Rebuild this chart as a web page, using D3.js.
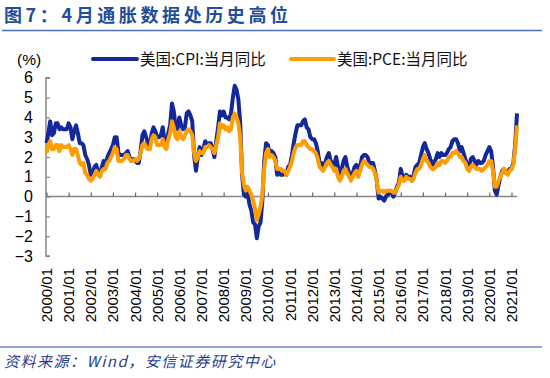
<!DOCTYPE html>
<html><head><meta charset="utf-8">
<script src="https://cdn.jsdelivr.net/npm/d3@7"></script>
<style>body{margin:0;background:#fff}svg{display:block}</style>
</head><body>
<svg id="c" width="550" height="378"></svg>
<script>
const titleText = "图7：4月通胀数据处历史高位";
const sourceText = "资料来源：Wind，安信证券研究中心";
const seriesNames = ["美国:CPI:当月同比", "美国:PCE:当月同比"];
const yTicks = [-3,-2,-1,0,1,2,3,4,5,6];
const startYear = 2000, endYear = 2021;
const cpi = [
2.7,3.2,3.8,3.1,3.2,3.7,3.7,3.4,3.5,3.4,3.4,3.4,
3.7,3.5,2.9,3.3,3.6,3.2,2.7,2.7,2.6,2.1,1.9,1.6,
1.1,1.1,1.5,1.6,1.2,1.1,1.5,1.8,1.5,2.0,2.2,2.4,
2.6,3.0,3.0,2.2,2.1,2.1,2.1,2.2,2.3,2.0,1.8,1.9,
1.9,1.7,1.7,2.3,3.1,3.3,3.0,2.7,2.5,3.2,3.5,3.3,
3.0,3.0,3.1,3.5,2.8,2.5,3.2,3.6,4.7,4.3,3.5,3.4,
4.0,3.6,3.4,3.5,4.2,4.3,4.1,3.8,2.1,1.3,2.0,2.5,
2.1,2.4,2.8,2.6,2.7,2.7,2.4,2.0,2.8,3.5,4.3,4.1,
4.3,4.0,4.0,3.9,4.2,5.0,5.6,5.4,4.9,3.7,1.1,0.1,
0.0,0.2,-0.4,-0.7,-1.3,-1.4,-2.1,-1.5,-1.3,-0.2,1.8,2.7,
2.6,2.1,2.3,2.2,2.0,1.1,1.2,1.1,1.1,1.2,1.1,1.5,
1.6,2.1,2.7,3.2,3.6,3.6,3.6,3.8,3.9,3.5,3.4,3.0,
2.9,2.9,2.7,2.3,1.7,1.7,1.4,1.7,2.0,2.2,1.8,1.7,
1.6,2.0,1.5,1.1,1.4,1.8,2.0,1.5,1.2,1.0,1.2,1.5,
1.6,1.1,1.5,2.0,2.1,2.1,2.0,1.7,1.7,1.7,1.3,0.8,
-0.1,0.0,-0.1,-0.2,0.0,0.1,0.2,0.2,0.0,0.2,0.5,0.7,
1.4,1.0,0.9,1.1,1.0,1.0,0.8,1.1,1.5,1.6,1.7,2.1,
2.5,2.7,2.4,2.2,1.9,1.6,1.7,1.9,2.2,2.0,2.2,2.1,
2.1,2.2,2.4,2.5,2.8,2.9,2.9,2.7,2.3,2.5,2.2,1.9,
1.6,1.5,1.9,2.0,1.8,1.6,1.8,1.7,1.7,1.8,2.1,2.3,
2.5,2.3,1.5,0.3,0.1,0.6,1.0,1.3,1.4,1.2,1.2,1.4,
1.4,1.7,2.6,4.2];
const pce = [
2.2,2.6,2.8,2.4,2.4,2.6,2.6,2.3,2.6,2.5,2.5,2.5,
2.6,2.4,2.1,2.4,2.4,2.1,1.7,1.6,1.7,1.2,1.1,0.9,
0.8,0.9,1.1,1.3,1.1,1.0,1.3,1.4,1.4,1.7,1.8,2.0,
2.2,2.5,2.4,1.8,1.8,1.8,1.9,2.1,2.1,1.9,1.8,1.8,
1.9,1.8,1.9,2.2,2.6,2.7,2.5,2.4,2.4,2.9,3.1,3.0,
2.6,2.6,2.6,2.9,2.5,2.4,2.9,3.2,3.8,3.5,3.0,2.9,
3.3,3.0,2.9,3.1,3.3,3.4,3.3,3.1,2.2,1.8,2.0,2.3,
2.2,2.2,2.5,2.5,2.6,2.5,2.4,2.2,2.6,3.0,3.7,3.5,
3.6,3.4,3.5,3.3,3.4,4.0,4.2,4.0,3.7,3.0,1.2,0.6,
0.3,0.5,0.3,0.1,-0.2,-0.6,-1.2,-0.9,-0.5,0.1,1.4,2.2,
2.4,2.0,2.1,2.0,1.8,1.4,1.4,1.4,1.3,1.3,1.1,1.3,
1.5,1.8,2.2,2.5,2.6,2.6,2.6,2.8,2.8,2.6,2.5,2.4,
2.4,2.3,2.2,1.9,1.5,1.4,1.3,1.5,1.7,1.8,1.6,1.5,
1.3,1.4,1.0,0.8,1.0,1.3,1.4,1.2,1.0,0.8,1.0,1.2,
1.3,1.0,1.3,1.6,1.8,1.7,1.6,1.5,1.5,1.4,1.2,0.8,
0.2,0.3,0.3,0.2,0.3,0.3,0.3,0.3,0.2,0.2,0.4,0.6,
1.0,0.8,0.8,1.0,0.9,0.9,0.8,0.9,1.2,1.4,1.4,1.6,
1.9,2.1,1.8,1.7,1.5,1.4,1.4,1.5,1.7,1.6,1.8,1.8,
1.7,1.8,2.0,2.0,2.2,2.2,2.3,2.2,2.0,2.0,1.8,1.7,
1.4,1.3,1.5,1.6,1.5,1.4,1.4,1.4,1.3,1.4,1.5,1.6,
1.8,1.8,1.3,0.5,0.5,0.8,1.0,1.2,1.4,1.2,1.1,1.3,
1.4,1.6,2.4,3.6];
const colors = ["#13299a", "#ff9d00"];

const svg = d3.select("#c");
const fontLat = "'Liberation Sans', Arial, sans-serif";
const fontCJK = "'Noto Sans CJK SC', 'Noto Sans', sans-serif";

// title
svg.append("text").attr("x", 4).attr("y", 21.5)
  .attr("font-family", fontCJK).attr("font-weight", "bold").attr("font-size", 18)
  .attr("letter-spacing", 3.6)
  .attr("fill", "#1f4e9a").text(titleText);
svg.append("line").attr("x1", 2).attr("x2", 542).attr("y1", 30.5).attr("y2", 30.5)
  .attr("stroke", "#4a72c0").attr("stroke-width", 1.5);

const n = cpi.length;
const x = d3.scaleLinear().domain([0, n - 1]).range([46.5, 517]);
const y = d3.scaleLinear().domain([-3, 6]).range([256, 77.8]);

// y axis
const yAxis = svg.append("g").attr("transform", "translate(46,0)")
  .call(d3.axisRight(y).tickValues(yTicks).tickSize(4).tickFormat(d3.format("d")));
yAxis.select(".domain").attr("stroke", "#888").attr("stroke-width", 1.5).attr("d", `M4,${y(-3)}H0V${y(6)}H4`);
yAxis.selectAll(".tick line").attr("stroke", "#888").attr("stroke-width", 1.2);
yAxis.selectAll(".tick text").attr("x", -13).attr("text-anchor", "end")
  .attr("font-family", fontLat).attr("font-size", 16).attr("fill", "#000");

svg.append("text").attr("x", 17).attr("y", 65).attr("font-family", fontLat).attr("font-size", 15.5).text("(%)");

// x axis at zero
const yearIdx = d3.range(startYear, endYear + 1).map(yr => (yr - startYear) * 12);
const xAxis = svg.append("g").attr("transform", `translate(0,${y(0)})`)
  .call(d3.axisTop(x).tickValues(yearIdx).tickSize(4).tickFormat(""));
xAxis.select(".domain").attr("stroke", "#888").attr("stroke-width", 1.5).attr("d", `M${x(0)},0H${x(n-1)}`);
xAxis.selectAll(".tick line").attr("stroke", "#666").attr("stroke-width", 1.2);

// x labels
svg.append("g").selectAll("text").data(yearIdx).join("text")
  .attr("transform", d => `translate(${x(d) + 5.5},268) rotate(-90)`)
  .attr("text-anchor", "end")
  .attr("font-family", fontLat).attr("font-size", 15).attr("fill", "#000")
  .text(d => `${startYear + d / 12}/01`);

// lines
const line = d3.line().x((d, i) => x(i)).y(d => y(d));
[cpi, pce].forEach((s, k) => {
  svg.append("path").datum(s).attr("d", line).attr("fill", "none")
    .attr("stroke", colors[k]).attr("stroke-width", 4).attr("stroke-linejoin", "round");
});

// legend
const leg = [{x1: 93, x2: 137, tx: 140}, {x1: 291, x2: 334, tx: 337}];
leg.forEach((l, k) => {
  svg.append("line").attr("x1", l.x1).attr("x2", l.x2).attr("y1", 59).attr("y2", 59)
    .attr("stroke", colors[k]).attr("stroke-width", 4).attr("stroke-linecap", "round");
  svg.append("text").attr("x", l.tx).attr("y", 64.5).attr("font-family", fontCJK)
    .attr("font-size", 15.5).attr("fill", "#111").text(seriesNames[k]);
});

// source
svg.append("line").attr("x1", 0).attr("x2", 542).attr("y1", 347).attr("y2", 347)
  .attr("stroke", "#8fa3d4").attr("stroke-width", 2);
svg.append("text").attr("x", 4).attr("y", 367).attr("font-family", fontCJK)
  .attr("font-style", "italic").attr("font-size", 15).attr("letter-spacing", 1.5)
  .attr("fill", "#1f3e8c").text(sourceText);
</script>
</body></html>
